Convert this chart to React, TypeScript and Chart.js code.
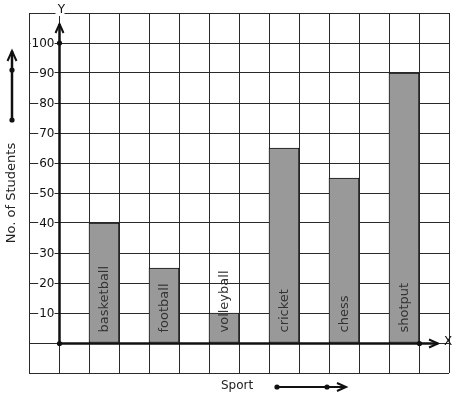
import React, { useEffect, useRef } from "react";
import { Chart, registerables } from "chart.js";

Chart.register(...registerables);

const sports = ["basketball", "football", "volleyball", "cricket", "chess", "shotput"];
const students = [40, 25, 10, 65, 55, 90];
const yTickValues = [10, 20, 30, 40, 50, 60, 70, 80, 90, 100];
const xAxisTitle = "Sport";
const yAxisTitle = "No. of Students";

const FONT = '"DejaVu Sans", sans-serif';

const decorPlugin = {
  id: "decor",
  afterDatasetsDraw(chart: any) {
    const ctx = chart.ctx as CanvasRenderingContext2D;
    const xs = chart.scales.x;
    const ys = chart.scales.y;
    const ox = Math.round(xs.getPixelForValue(0)) + 0.5;
    const oy = Math.round(ys.getPixelForValue(0)) + 0.5;
    const ink = "#111";

    ctx.save();
    // bar labels
    const meta = chart.getDatasetMeta(0);
    ctx.font = "13px " + FONT;
    ctx.fillStyle = "#333";
    ctx.textAlign = "left";
    ctx.textBaseline = "middle";
    meta.data.forEach((el: any, i: number) => {
      ctx.save();
      ctx.translate(el.x, el.base - 10);
      ctx.rotate(-Math.PI / 2);
      ctx.fillText(sports[i], 0, 1);
      ctx.restore();
    });

    // y tick labels with white background
    ctx.font = "12px " + FONT;
    ctx.textAlign = "right";
    ctx.textBaseline = "middle";
    yTickValues.forEach((v) => {
      const y = ys.getPixelForValue(v);
      const t = String(v);
      const w = ctx.measureText(t).width;
      const right = ox - 5;
      ctx.fillStyle = "#fff";
      ctx.fillRect(right - w - 1, y - 6, w + 1, 12);
      ctx.fillStyle = ink;
      ctx.fillText(t, right, y + 1);
    });

    ctx.strokeStyle = ink;
    ctx.fillStyle = ink;
    ctx.lineWidth = 2.5;
    ctx.lineCap = "butt";
    // y axis
    const yTop = 24;
    ctx.beginPath();
    ctx.moveTo(ox, oy);
    ctx.lineTo(ox, yTop);
    ctx.stroke();
    ctx.lineWidth = 2;
    ctx.beginPath();
    ctx.moveTo(ox - 4, yTop + 9);
    ctx.lineTo(ox, yTop);
    ctx.lineTo(ox + 4, yTop + 9);
    ctx.stroke();
    // x axis
    const xRight = 438;
    ctx.lineWidth = 2.5;
    ctx.beginPath();
    ctx.moveTo(ox, oy);
    ctx.lineTo(xRight, oy);
    ctx.stroke();
    ctx.lineWidth = 2;
    ctx.beginPath();
    ctx.moveTo(xRight - 9, oy - 4);
    ctx.lineTo(xRight, oy);
    ctx.lineTo(xRight - 9, oy + 4);
    ctx.stroke();

    const dot = (x: number, y: number) => {
      ctx.beginPath();
      ctx.arc(x, y, 2.6, 0, Math.PI * 2);
      ctx.fill();
    };
    dot(ox, oy);
    dot(ox, ys.getPixelForValue(100));
    dot(Math.round(xs.getPixelForValue(12)) + 0.5, oy);

    // Y and X labels
    ctx.font = "12px " + FONT;
    ctx.textAlign = "center";
    ctx.textBaseline = "middle";
    ctx.fillStyle = "#fff";
    ctx.fillRect(ox - 4, 4, 9, 12);
    ctx.fillStyle = ink;
    ctx.fillText("Y", ox + 2, 10);
    ctx.fillText("X", 448, 342);

    // y axis title + arrow
    ctx.save();
    ctx.translate(12, 193);
    ctx.rotate(-Math.PI / 2);
    ctx.font = "13px " + FONT;
    ctx.fillStyle = "#222";
    ctx.fillText(yAxisTitle, 0, 0);
    ctx.restore();
    ctx.lineWidth = 2.5;
    ctx.beginPath();
    ctx.moveTo(12, 120);
    ctx.lineTo(12, 51);
    ctx.stroke();
    ctx.lineWidth = 2;
    ctx.beginPath();
    ctx.moveTo(7.5, 61);
    ctx.lineTo(12, 51);
    ctx.lineTo(16.5, 61);
    ctx.stroke();
    dot(12, 120);
    dot(12, 70);

    // x axis title + arrow
    ctx.font = "12px " + FONT;
    ctx.textAlign = "left";
    ctx.fillStyle = "#222";
    ctx.fillText(xAxisTitle, 221, 386);
    ctx.fillStyle = ink;
    ctx.lineWidth = 2;
    ctx.beginPath();
    ctx.moveTo(277, 387);
    ctx.lineTo(346, 387);
    ctx.stroke();
    ctx.beginPath();
    ctx.moveTo(337, 383);
    ctx.lineTo(346, 387);
    ctx.lineTo(337, 391);
    ctx.stroke();
    dot(277, 387);
    dot(327, 387);
    ctx.restore();
  },
};

export default function App() {
  const ref = useRef<HTMLCanvasElement>(null);
  useEffect(() => {
    if (!ref.current) return;
    const chart = new Chart(ref.current, {
      type: "bar",
      data: {
        datasets: [
          {
            data: sports.map((s, i) => ({ x: 1.5 + 2 * i, y: students[i] })),
            backgroundColor: "#999999",
            borderColor: "#111",
            borderWidth: 1,
            borderSkipped: false,
            categoryPercentage: 1,
            barPercentage: 1,
          },
        ],
      },
      options: {
        animation: false,
        responsive: false,
        layout: { padding: { left: 29, right: 8, top: 13, bottom: 26 } },
        plugins: { legend: { display: false }, tooltip: { enabled: false } },
        scales: {
          x: {
            type: "linear",
            min: -1,
            max: 13,
            offset: false,
            ticks: { display: false, stepSize: 1, maxTicksLimit: 30 },
            grid: { color: "#2a2a2a", lineWidth: 1, drawTicks: false, offset: false },
            border: { display: false },
            afterFit: (s: any) => {
              s.height = 0;
            },
          },
          y: {
            type: "linear",
            min: -10,
            max: 110,
            ticks: { display: false, stepSize: 10, maxTicksLimit: 30 },
            grid: { color: "#2a2a2a", lineWidth: 1, drawTicks: false },
            border: { display: false },
            afterFit: (s: any) => {
              s.width = 0;
            },
          },
        },
      },
      plugins: [decorPlugin],
    } as any);
    return () => chart.destroy();
  }, []);
  return (
    <div style={{ position: "absolute", left: 0, top: 0, width: 457, height: 399, background: "#fff" }}>
      <canvas ref={ref} width={457} height={399} />
    </div>
  );
}
